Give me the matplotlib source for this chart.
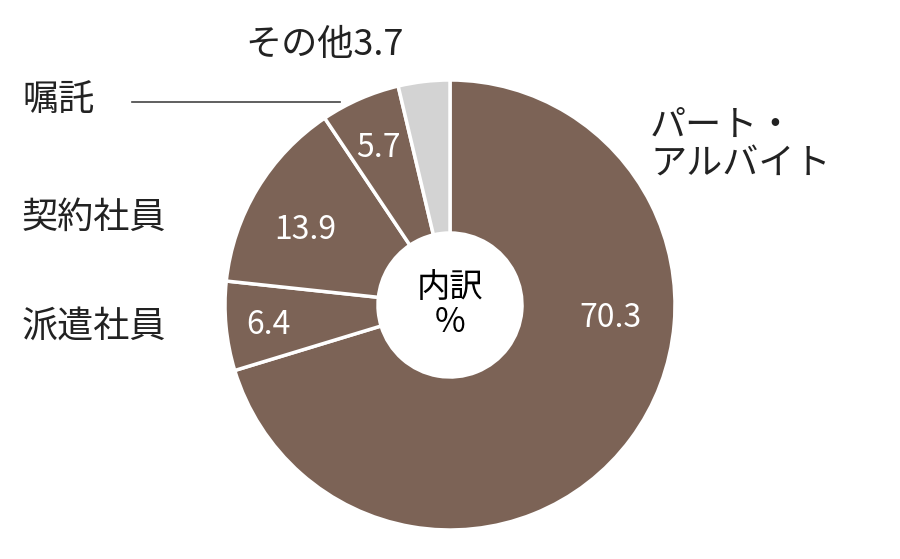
import matplotlib
matplotlib.use("Agg")
import matplotlib.pyplot as plt

plt.rcParams['font.family'] = ['Noto Sans CJK JP', 'DejaVu Sans']

categories = ["パート・アルバイト", "派遣社員", "契約社員", "嘱託", "その他"]
values = [70.3, 6.4, 13.9, 5.7, 3.7]
colors = ["#7c6356", "#7c6356", "#7c6356", "#7c6356", "#d3d3d3"]

W, H = 900, 559
fig = plt.figure(figsize=(9, 5.59), dpi=100)
ax = fig.add_axes([0, 0, 1, 1])
cx, cy, R = 450, H - 305, 225

ax.pie(values, colors=colors, startangle=90, counterclock=False,
       center=(cx, cy), radius=R,
       wedgeprops=dict(width=R - 72, edgecolor="white", linewidth=2.5))
ax.set_xlim(0, W)
ax.set_ylim(0, H)
ax.set_aspect("equal")
ax.axis("off")

def t(x, y, s, **kw):
    ax.text(x, H - y, s, **kw)

white = dict(color="white", fontsize=23, ha="center", va="center")
t(610, 318, "70.3", **white)
t(268, 325, "6.4", **white)
t(305, 230, "13.9", **white)
t(378, 148, "5.7", **white)

t(cx, 305, "内訳\n%", fontsize=24, ha="center", va="center", linespacing=1.0)

lab = dict(fontsize=26, color="#222222", va="center")
t(650, 145, "パート・\nアルバイト", ha="left", linespacing=1.1, **lab)
t(22, 218, "契約社員", ha="left", **lab)
t(22, 327, "派遣社員", ha="left", **lab)
t(22, 100, "嘱託", ha="left", **lab)
t(245, 45, "その他3.7", ha="left", **lab)
ax.plot([132, 340], [H - 102, H - 102], color="#444444", linewidth=1.2)

fig.savefig("out.png", dpi=100, facecolor="white")
